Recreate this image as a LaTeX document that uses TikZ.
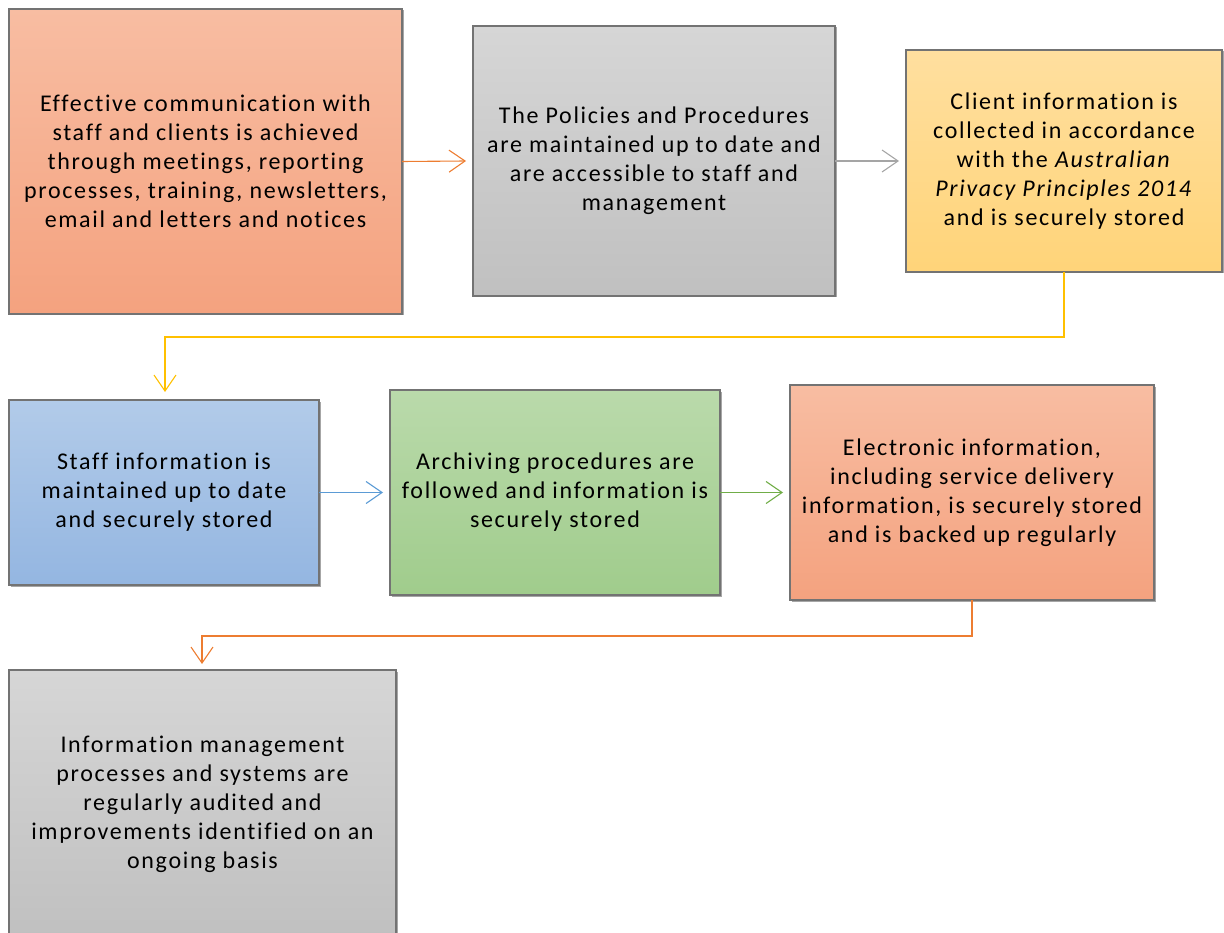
\documentclass[tikz,border=0pt]{standalone}
\usepackage{fontspec}
\setmainfont{Carlito}[LetterSpace=7,Ligatures={NoCommon}]
\usetikzlibrary{arrows.meta}
\definecolor{orA}{HTML}{F8BDA2}\definecolor{orB}{HTML}{F4A27F}
\definecolor{grA}{HTML}{D6D6D6}\definecolor{grB}{HTML}{C0C0C0}
\definecolor{ylA}{HTML}{FFDF9F}\definecolor{ylB}{HTML}{FFD479}
\definecolor{blA}{HTML}{B2CBE9}\definecolor{blB}{HTML}{94B6E1}
\definecolor{gnA}{HTML}{BADAAB}\definecolor{gnB}{HTML}{A0CC8C}
\definecolor{lnOr}{HTML}{ED7D31}\definecolor{lnGr}{HTML}{A5A5A5}
\definecolor{lnYl}{HTML}{FFC000}\definecolor{lnBl}{HTML}{5B9BD5}
\definecolor{lnGn}{HTML}{70AD47}
\tikzset{
  x=1pt, y=-1pt,
  card/.style={draw=black!55, line width=1.2pt, inner sep=0pt, outer sep=0pt,
    align=center, font=\fontsize{24}{29}\selectfont, anchor=north west},
  flow/.style={line width=1.1pt, -{Straight Barb[length=16pt,width=22pt,line width=1.1pt]}},
}
\newcommand{\card}[8]{%
  % name, x, y, w, h, top colour, bottom colour, text
  \fill[black!35] (#2+1.5,#3+1.5) rectangle ++(#4,#5);
  \node[card, top color=#6, bottom color=#7, minimum width=#4pt, minimum height=#5pt]
    (#1) at (#2,#3) {#8};}
\begin{document}
\begin{tikzpicture}
\useasboundingbox (0,0) rectangle (1224,933);
\begin{scope}
\clip (0,0) rectangle (1224,933);
\card{c1}{9}{9}{393}{305}{orA}{orB}{Effective communication with\\staff and clients is achieved\\through meetings, reporting\\processes, training, newsletters,\\email and letters and notices}
\card{c2}{473}{26}{362}{270}{grA}{grB}{The Policies and Procedures\\are maintained up to date and\\are accessible to staff and\\management}
\card{c3}{906}{50}{316}{222}{ylA}{ylB}{Client information is\\collected in accordance\\with the \textit{Australian}\\\textit{Privacy Principles 2014}\\and is securely stored}
\card{c4}{9}{400}{310}{185}{blA}{blB}{Staff information is\\maintained up to date\\and securely stored}
\card{c5}{390}{390}{330}{205}{gnA}{gnB}{Archiving procedures are\\followed and information is\\securely stored}
\card{c6}{790}{385}{364}{215}{orA}{orB}{Electronic information,\\including service delivery\\information, is securely stored\\and is backed up regularly}
\card{c7}{9}{670}{387}{268}{grA}{grB}{Information management\\processes and systems are\\regularly audited and\\improvements identified on an\\ongoing basis}
\end{scope}
\draw[flow, lnOr] (c1.east) -- ([xshift=-7pt]c2.west);
\draw[flow, lnGr] (c2.east) -- ([xshift=-7pt]c3.west);
\draw[flow, lnYl] (c3.south) -- ++(0,65) -| ([shift={(0,-8)}]c4.north -| 165,0);
\draw[flow, lnBl] (c4.east) -- ([xshift=-7pt]c5.west);
\draw[flow, lnGn] (c5.east) -- ([xshift=-7pt]c6.west);
\draw[flow, lnOr] (c6.south) -- ++(0,36) -| ([shift={(0,-6)}]c7.north -| 202,0);
\end{tikzpicture}
\end{document}
